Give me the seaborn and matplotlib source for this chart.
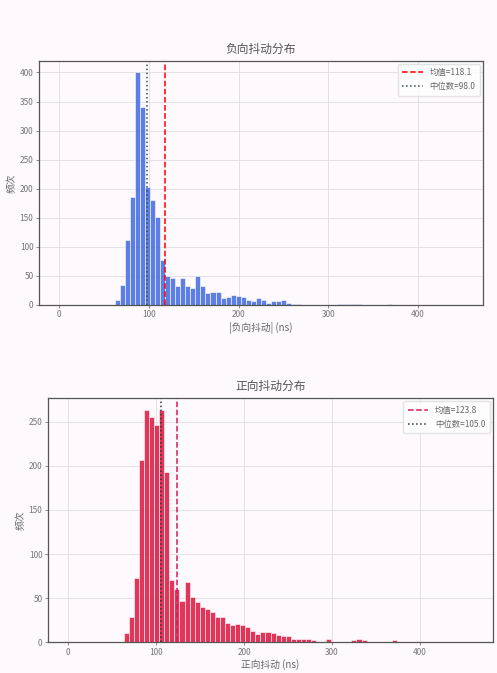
import numpy as np
import pandas as pd
import seaborn as sns
import matplotlib
matplotlib.use('Agg')
import matplotlib.pyplot as plt

# 负向抖动: 80 bins over 0-450 ns, counts per bin
neg_range = (0, 450)
neg_counts = [0, 0, 0, 0, 0, 0, 0, 0, 0, 0,
              0, 8, 34, 112, 185, 400, 341, 203, 180, 151,
              77, 49, 47, 33, 47, 33, 29, 49, 33, 20,
              23, 23, 11, 14, 17, 15, 14, 9, 6, 11,
              9, 3, 6, 7, 9, 4, 2, 2, 0, 0,
              0, 0, 0, 0, 0, 2, 1, 2, 1, 2,
              0, 0, 0, 0, 0, 2, 0, 0, 0, 0,
              0, 0, 0, 0, 0, 0, 0, 0, 0, 0]
neg_mean, neg_median = 118.1, 98.0

# 正向抖动: 80 bins over 0-460 ns
pos_range = (0, 460)
pos_counts = [0, 0, 0, 0, 0, 0, 0, 0, 0, 0,
              0, 10, 28, 73, 207, 264, 256, 247, 264, 193,
              71, 60, 47, 68, 51, 45, 40, 38, 34, 28,
              28, 22, 19, 20, 19, 17, 12, 9, 11, 11,
              10, 8, 7, 7, 3, 3, 3, 3, 2, 0,
              0, 4, 0, 0, 0, 0, 2, 3, 2, 0,
              0, 0, 0, 0, 2, 0, 0, 0, 0, 0,
              0, 0, 0, 0, 0, 0, 0, 0, 0, 0]
pos_mean, pos_median = 123.8, 105.0

sns.set_theme(style='whitegrid')
plt.rcParams['font.family'] = ['Noto Sans CJK SC', 'DejaVu Sans']
plt.rcParams['axes.unicode_minus'] = False

bg = '#fdf9fc'
fig = plt.figure(figsize=(4.97, 6.73), dpi=100, facecolor=bg)
ax1 = fig.add_axes([0.0785, 0.547, 0.893, 0.3626])
ax2 = fig.add_axes([0.0966, 0.046, 0.8954, 0.3626])


def centers(rng, n):
    e = np.linspace(rng[0], rng[1], n + 1)
    return (e[:-1] + e[1:]) / 2


panels = [
    (ax1, neg_range, neg_counts, '#4169e1', neg_mean, neg_median,
     'red', '#2f4f4f', '负向抖动分布', '|负向抖动| (ns)'),
    (ax2, pos_range, pos_counts, '#dc143c', pos_mean, pos_median,
     '#d81b60', '#333333', '正向抖动分布', '正向抖动 (ns)'),
]

for ax, rng, cnt, col, mu, med, mcol, dcol, title, xlabel in panels:
    df = pd.DataFrame({'x': centers(rng, len(cnt)), 'w': cnt})
    sns.histplot(data=df, x='x', weights='w', bins=len(cnt), binrange=rng,
                 color=col, alpha=0.85, edgecolor='white', linewidth=0.4, ax=ax)
    ax.axvline(mu, color=mcol, linestyle='--', linewidth=1.1, label='均值=%.1f' % mu)
    ax.axvline(med, color=dcol, linestyle=':', linewidth=1.1, label='中位数=%.1f' % med)
    ax.set_facecolor(bg)
    ax.set_title(title, fontsize=8.5, color='#555555', pad=6)
    ax.set_xlabel(xlabel, fontsize=7, color='#666666', labelpad=2)
    ax.set_ylabel('频次', fontsize=7, color='#666666', labelpad=2)
    ax.set_xticks([0, 100, 200, 300, 400])
    ax.tick_params(labelsize=6, colors='#777777', length=2, width=0.6,
                   bottom=True, left=True, pad=2)
    ax.grid(True, color='#e2e2e6', linewidth=0.7)
    for s in ax.spines.values():
        s.set_color('#555555')
        s.set_linewidth(0.9)
    leg = ax.legend(loc='upper right', fontsize=6, frameon=True,
                    handlelength=2.5, borderpad=0.5, labelspacing=0.6,
                    borderaxespad=0.4)
    leg.get_frame().set_facecolor('white')
    leg.get_frame().set_edgecolor('#dddddd')
    for t in leg.get_texts():
        t.set_color('#666666')

ax1.set_yticks(range(0, 401, 50))
ax2.set_yticks(range(0, 251, 50))

fig.savefig('out.png', dpi=100, facecolor=bg)
